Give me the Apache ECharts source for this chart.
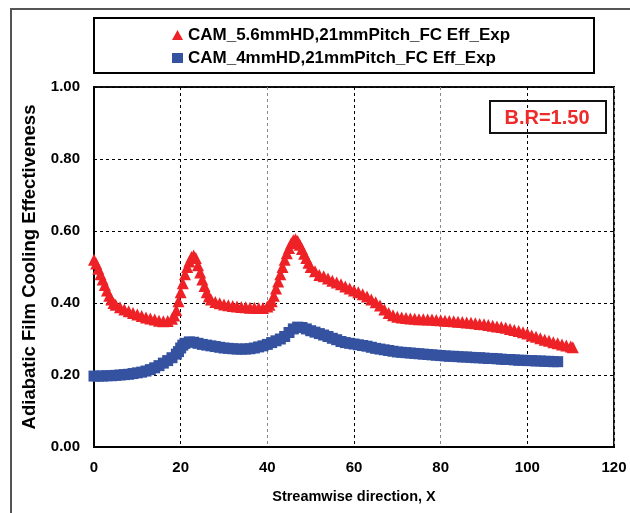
<!DOCTYPE html>
<html>
<head>
<meta charset="utf-8">
<title>FC Effectiveness</title>
<script src="https://cdn.jsdelivr.net/npm/echarts@6/dist/echarts.min.js"></script>
<style>
  html, body { margin: 0; padding: 0; background: #fff; }
  #chart { width: 630px; height: 513px; }
</style>
</head>
<body>
<div id="chart"></div>
<script>
// series names
const seriesNames = ["CAM_5.6mmHD,21mmPitch_FC Eff_Exp", "CAM_4mmHD,21mmPitch_FC Eff_Exp"];

// 5.6 mm hole: [x, effectiveness]
const red56 = [
  [0, 0.52], [0.5, 0.51], [1, 0.495], [1.5, 0.48], [2, 0.465], [2.5, 0.45], [3, 0.435], [3.5, 0.42],
  [4, 0.41], [4.5, 0.40], [5, 0.395], [6, 0.388], [7, 0.382], [8, 0.377], [9, 0.372], [10, 0.368],
  [11, 0.364], [12, 0.36], [13, 0.357], [14, 0.354], [15, 0.351], [16, 0.349], [17, 0.35], [18, 0.356],
  [18.5, 0.365], [19, 0.38], [19.5, 0.405], [20, 0.43], [20.5, 0.455], [21, 0.48], [21.5, 0.50],
  [22, 0.515], [22.5, 0.528], [23, 0.532], [23.5, 0.525], [24, 0.505], [24.5, 0.485], [25, 0.465],
  [25.5, 0.447], [26, 0.43], [26.5, 0.418], [27, 0.41], [28, 0.403], [29, 0.399], [30, 0.396],
  [31, 0.394], [32, 0.392], [33, 0.39], [34, 0.389], [35, 0.388], [36, 0.387], [37, 0.387], [38, 0.386],
  [39, 0.386], [40, 0.39], [40.5, 0.395], [41, 0.405], [41.5, 0.42], [42, 0.44], [42.5, 0.46],
  [43, 0.48], [43.5, 0.50], [44, 0.52], [44.5, 0.538], [45, 0.553], [45.5, 0.566], [46, 0.574],
  [46.5, 0.577], [47, 0.572], [47.5, 0.562], [48, 0.55], [48.5, 0.537], [49, 0.525], [49.5, 0.512],
  [50, 0.50], [51, 0.488], [52, 0.478], [53, 0.474], [54, 0.468], [55, 0.462], [56, 0.457], [57, 0.452],
  [58, 0.446], [59, 0.44], [60, 0.435], [61, 0.43], [62, 0.424], [63, 0.418], [64, 0.41], [65, 0.402],
  [66, 0.393], [67, 0.382], [68, 0.372], [69, 0.366], [70, 0.362], [71, 0.36], [72, 0.358], [73, 0.357],
  [74, 0.356], [75, 0.355], [76, 0.355], [77, 0.354], [78, 0.354], [79, 0.353], [80, 0.352], [81, 0.351],
  [82, 0.35], [83, 0.349], [84, 0.348], [85, 0.347], [86, 0.346], [87, 0.345], [88, 0.344], [89, 0.342],
  [90, 0.341], [91, 0.339], [92, 0.337], [93, 0.335], [94, 0.333], [95, 0.331], [96, 0.328], [97, 0.325],
  [98, 0.322], [99, 0.319], [100, 0.315], [101, 0.31], [102, 0.306], [103, 0.302], [104, 0.298],
  [105, 0.295], [106, 0.291], [107, 0.288], [108, 0.285], [109, 0.282], [110, 0.279], [110.5, 0.277]
];

// 4 mm hole: [x, effectiveness]
const blue4 = [
  [0, 0.197], [1, 0.197], [2, 0.197], [3, 0.198], [4, 0.198], [5, 0.199], [6, 0.2], [7, 0.201],
  [8, 0.202], [9, 0.204], [10, 0.206], [11, 0.208], [12, 0.211], [13, 0.215], [14, 0.22], [15, 0.226],
  [16, 0.233], [17, 0.24], [18, 0.248], [19, 0.258], [19.5, 0.265], [20, 0.275], [20.5, 0.283],
  [21, 0.288], [22, 0.292], [23, 0.291], [24, 0.288], [25, 0.285], [26, 0.283], [27, 0.281], [28, 0.279],
  [29, 0.277], [30, 0.275], [31, 0.274], [32, 0.273], [33, 0.272], [34, 0.272], [35, 0.272], [36, 0.273],
  [37, 0.275], [38, 0.278], [39, 0.281], [40, 0.285], [41, 0.29], [42, 0.295], [43, 0.3], [44, 0.307],
  [45, 0.318], [46, 0.328], [47, 0.333], [48, 0.332], [49, 0.328], [50, 0.323], [51, 0.319], [52, 0.315],
  [53, 0.311], [54, 0.307], [55, 0.302], [56, 0.298], [57, 0.293], [58, 0.29], [59, 0.288], [60, 0.286],
  [61, 0.284], [62, 0.282], [63, 0.28], [64, 0.277], [65, 0.274], [66, 0.272], [67, 0.27], [68, 0.268],
  [69, 0.266], [70, 0.264], [71, 0.263], [72, 0.262], [73, 0.261], [74, 0.26], [75, 0.259], [76, 0.258],
  [77, 0.257], [78, 0.256], [79, 0.255], [80, 0.254], [81, 0.253], [82, 0.252], [83, 0.252], [84, 0.251],
  [85, 0.25], [86, 0.25], [87, 0.249], [88, 0.248], [89, 0.248], [90, 0.247], [91, 0.246], [92, 0.246],
  [93, 0.245], [94, 0.244], [95, 0.243], [96, 0.243], [97, 0.242], [98, 0.241], [99, 0.241], [100, 0.24],
  [101, 0.24], [102, 0.239], [103, 0.239], [104, 0.238], [105, 0.238], [106, 0.237], [107, 0.237]
];

const font = "Arial, 'Liberation Sans', sans-serif";

let myChart = echarts.init(document.getElementById("chart"));
myChart.setOption({
  animation: false,
  backgroundColor: "#fff",
  grid: {
    left: 94,
    right: 16,
    top: 87,
    bottom: 66,
    show: true,
    borderColor: "#111",
    borderWidth: 2,
  },
  legend: {
    orient: "vertical",
    left: 172,
    top: 25,
    padding: 0,
    itemWidth: 11,
    itemHeight: 10,
    itemGap: 3,
    textStyle: {
      fontFamily: font,
      fontWeight: "bold",
      fontSize: 17,
      lineHeight: 20,
      color: "#000",
    },
    data: [
      { name: seriesNames[0], icon: "triangle" },
      { name: seriesNames[1], icon: "rect" },
    ],
  },
  xAxis: {
    type: "value",
    min: 0,
    max: 120,
    interval: 20,
    name: "Streamwise direction, X",
    nameLocation: "middle",
    nameGap: 42,
    nameTextStyle: { fontFamily: font, fontWeight: "bold", fontSize: 14.5, color: "#000" },
    axisLine: { show: true, lineStyle: { color: "#000", width: 2 } },
    axisTick: { show: false },
    axisLabel: { margin: 13, fontFamily: font, fontWeight: "bold", fontSize: 15, color: "#000" },
    splitLine: {
      show: true,
      lineStyle: { color: ["#888", "#000"], type: [3, 3], width: 1 },
    },
  },
  yAxis: {
    type: "value",
    min: 0,
    max: 1,
    interval: 0.2,
    name: "Adiabatic Film Cooling Effectiveness",
    nameLocation: "middle",
    nameGap: 55,
    nameTextStyle: { fontFamily: font, fontWeight: "bold", fontSize: 18.5, color: "#000" },
    axisLine: { show: true, lineStyle: { color: "#000", width: 2 } },
    axisTick: { show: false },
    axisLabel: {
      margin: 14,
      fontFamily: font,
      fontWeight: "bold",
      fontSize: 15,
      color: "#000",
      formatter: (v) => v.toFixed(2),
    },
    splitLine: { show: true, lineStyle: { color: "#000", type: [3, 3], width: 1 } },
  },
  graphic: [
    // outer chart frame (only top and left visible)
    {
      type: "rect",
      shape: { x: 11, y: 9, width: 700, height: 600 },
      style: { fill: null, stroke: "#555", lineWidth: 2 },
      silent: true,
    },
    // legend box
    {
      type: "rect",
      shape: { x: 94, y: 18, width: 500, height: 55 },
      style: { fill: null, stroke: "#000", lineWidth: 2 },
      silent: true,
    },
    // B.R box
    {
      type: "rect",
      shape: { x: 490, y: 101, width: 116, height: 32 },
      style: { fill: null, stroke: "#111", lineWidth: 2 },
      z: 10,
      silent: true,
    },
    {
      type: "text",
      style: {
        text: "B.R=1.50",
        x: 547,
        y: 118,
        fill: "#ee2a2a",
        font: "bold 20px Arial, 'Liberation Sans', sans-serif",
        textAlign: "center",
        textVerticalAlign: "middle",
      },
      z: 10,
      silent: true,
    },
  ],
  series: [
    {
      name: seriesNames[0],
      type: "scatter",
      symbol: "triangle",
      symbolSize: 12,
      itemStyle: { color: "#ee2226", opacity: 1 },
      data: red56,
    },
    {
      name: seriesNames[1],
      type: "scatter",
      symbol: "rect",
      symbolSize: 11,
      itemStyle: { color: "#3452a0", opacity: 1 },
      data: blue4,
    },
  ],
});
</script>
</body>
</html>
